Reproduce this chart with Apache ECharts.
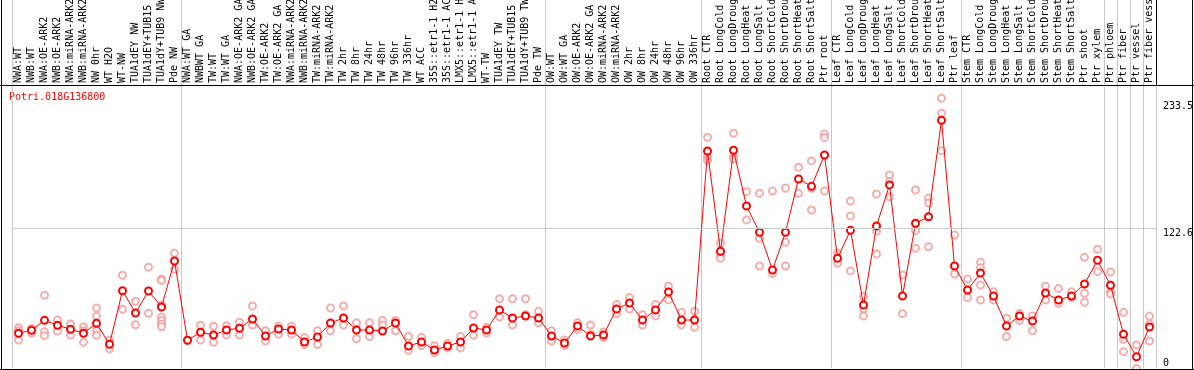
<!DOCTYPE html>
<html><head><meta charset="utf-8">
<script src="https://cdn.jsdelivr.net/npm/echarts@6/dist/echarts.min.js"></script>
<style>html,body{margin:0;padding:0;background:#fff}#c{width:1194px;height:370px}</style>
</head><body><div id="c"></div>
<script>
const title = 'Potri.018G136800';
const categories = ['NWA:WT','NWB:WT','NWA:OE-ARK2','NWB:OE-ARK2','NWA:miRNA-ARK2','NWB:miRNA-ARK2','NW 0hr','WT H2O','WT-NW','TUA1dEY NW','TUA1dEY+TUB15 NW','TUA1dY+TUB9 NW','Pde NW',
'NWA:WT GA','NWBWT GA','TW:WT','TW:WT GA','NWA:OE-ARK2 GA','NWB:OE-ARK2 GA','TW:OE-ARK2','TW:OE-ARK2 GA','NWA:miRNA-ARK2 GA','NWB:miRNA-ARK2 GA','TW:miRNA-ARK2','TW:miRNA-ARK2 GA','TW 2hr','TW 8hr','TW 24hr','TW 48hr','TW 96hr','TW 336hr','WT ACC','35S::etr1-1 H2O','35S::etr1-1 ACC','LMX5::etr1-1 H2O','LMX5::etr1-1 ACC','WT-TW','TUA1dEY TW','TUA1dEY+TUB15 TW','TUA1dY+TUB9 TW','Pde TW',
'OW:WT','OW:WT GA','OW:OE-ARK2','OW:OE-ARK2 GA','OW:miRNA-ARK2','OW:miRNA-ARK2 GA','OW 2hr','OW 8hr','OW 24hr','OW 48hr','OW 96hr','OW 336hr',
'Root CTR','Root LongCold','Root LongDrought','Root LongHeat','Root LongSalt','Root ShortCold','Root ShortDrought','Root ShortHeat','Root ShortSalt','Ptr root',
'Leaf CTR','Leaf LongCold','Leaf LongDrought','Leaf LongHeat','Leaf LongSalt','Leaf ShortCold','Leaf ShortDrought','Leaf ShortHeat','Leaf ShortSalt','Ptr leaf',
'Stem CTR','Stem LongCold','Stem LongDrought','Stem LongHeat','Stem LongSalt','Stem ShortCold','Stem ShortDrought','Stem ShortHeat','Stem ShortSalt','Ptr shoot',
'Ptr xylem','Ptr phloem','Ptr fiber','Ptr vessel','Ptr fiber vessel'];
const means = [30.8,33.4,42.1,37.8,34.3,30.8,39.5,21.2,68.0,48.5,67.8,53.8,94.0,
24.7,31.7,29.3,33.7,35.2,43.3,28.4,34.5,33.7,23.2,27.5,39.8,44.2,33.7,33.7,32.8,39.8,19.7,23.2,16.2,19.7,23.2,35.4,33.7,51.2,44.2,45.9,44.2,
28.4,22.3,37.2,28.4,29.3,52.0,57.3,42.4,51.2,66.9,42.4,42.4,
190.2,102.5,190.8,142.1,119.1,86.1,119.1,165.7,159.3,186.7,
96.4,120.8,55.5,124.6,160.5,63.4,127.0,132.7,217.0,89.6,
68.6,83.5,63.4,37.2,45.9,41.5,66.0,59.9,63.4,73.9,
94.6,72.8,29.9,10.3,36.3];
const replicates = [[35.7,33,24.9],[35,33,31],[64.0,32.2,28.7],[42.4,32.8],[38.9,29.3],[36.3,33,22.9],[52.9,45.6,33,29],[24.9,17.3],[81.5,51.8],[58.8,38.3],[88.5,48.3],[78.3,77,55.5,45,42,39,36.5],[100.7,86.7],
[24.7],[37.8,24.9],[36.9,22.9],[37.4,29.3],[40.4,29.3],[54.6,38],[33,24],[37,30],[37,30],[27,21],[33,21],[52.9,33],[54.6,38],[40,26],[40,28],[42,38],[42,33],[28,16],[27,20],[20,14],[22,18],[28,18],[47,29],[36,31],[61,45],[61,38],[61,47],[50,40],
[33,24],[25,20],[40,34],[38,30],[32,27],[56,48],[62,52],[47,38],[56,46],[72,60],[49,38],[50,36],
[202.2,185,182],[109.5,99.3,96.4],[205.7,185.2,183.2],[154.6,129.9],[153.2,113.9,89.6],[155.2,83],[157.6,110.4,89.6],[175.9,153.2],[181.5,157.6,138.6],[205,202,155.2],
[100.7,92],[146.5,133.4,85.3],[63,52,46],[152.6,120,100.1],[169.2,163.4,150.2],[81.8,48],[156.1,120.5,105.1],[149,144.6,106.5],[236.3,223.2,190.5],[116.7,82.6],
[78.3,62],[93,88,73,60],[67,60],[44,28],[48,42],[46,33],[72,60],[70,57],[67,62],[97.2,65.8,57.9],
[104.2,84.7],[84.4,67.2,65.1],[49.1,25.5,14.7],[20.5,0],[45.6,38.9,24.0]];
const yLabels = [0, 122.6, 233.5];
const groupStarts = [0, 13, 41, 53, 63, 73, 84, 85, 86, 87, 88];

const repData = [];
replicates.forEach((arr, i) => arr.forEach(v => repData.push([i, v])));

const chart = echarts.init(document.getElementById('c'), null, {renderer: 'canvas'});
const mono = 'DejaVu Sans Mono';
chart.setOption({
  animation: false,
  backgroundColor: '#fff',
  grid: {left: 12, top: 0, width: 1144, bottom: 1.5, containLabel: false, outerBoundsMode: 'none'},
  xAxis: {
    type: 'category', data: categories, position: 'top', offset: -85,
    boundaryGap: true,
    axisLine: {show: false}, axisTick: {show: false},
    axisLabel: {rotate: 90, interval: 0, margin: 2, hideOverlap: false, fontFamily: mono, fontSize: 10, color: '#000'},
    splitLine: {show: true, interval: (i) => groupStarts.includes(i), lineStyle: {color: '#c8c8c8', width: 1}}
  },
  yAxis: {
    type: 'value', position: 'right', min: 0, max: 322.2,
    axisLine: {show: false}, axisTick: {show: false}, splitLine: {show: false},
    axisLabel: {customValues: yLabels, margin: 7, align: 'left', verticalAlign: 'middle', fontFamily: mono, fontSize: 10, color: '#000',
      formatter: v => v === 0 ? '0\n' : '\n' + v}
  },
  series: [
    {type: 'scatter', data: repData, symbol: 'emptyCircle', symbolSize: 7, clip: false,
     itemStyle: {color: '#f29a9a', borderColor: '#f29a9a', borderWidth: 1.2}, z: 2},
    {type: 'line', data: means, symbol: 'emptyCircle', symbolSize: 7, showAllSymbol: true, clip: false,
     lineStyle: {color: '#ff0000', width: 1}, itemStyle: {color: '#ff0000', borderColor: '#ff0000', borderWidth: 1.6}, z: 3,
     markLine: {silent: true, symbol: 'none', label: {show: false}, lineStyle: {color: '#c8c8c8', width: 1, type: 'solid'}, data: [{yAxis: 122.6}]}}
  ],
  graphic: [
    {type: 'text', left: 9, top: 92, style: {text: title, fill: '#ff0000', font: '10px "DejaVu Sans Mono"'}},
    {type: 'line', shape: {x1: 0, y1: 85.5, x2: 1194, y2: 85.5}, style: {stroke: '#000', lineWidth: 1}, z: 10},
    {type: 'line', shape: {x1: 1.5, y1: 0, x2: 1.5, y2: 370}, style: {stroke: '#000', lineWidth: 1}, z: 10},
    {type: 'line', shape: {x1: 1192.5, y1: 0, x2: 1192.5, y2: 370}, style: {stroke: '#000', lineWidth: 1}, z: 10},
    {type: 'line', shape: {x1: 0, y1: 369.5, x2: 1194, y2: 369.5}, style: {stroke: '#000', lineWidth: 1}, z: 10},
    {type: 'line', shape: {x1: 1156.5, y1: 0, x2: 1156.5, y2: 85}, style: {stroke: '#000', lineWidth: 1}, z: 10}
  ]
});
</script></body></html>
